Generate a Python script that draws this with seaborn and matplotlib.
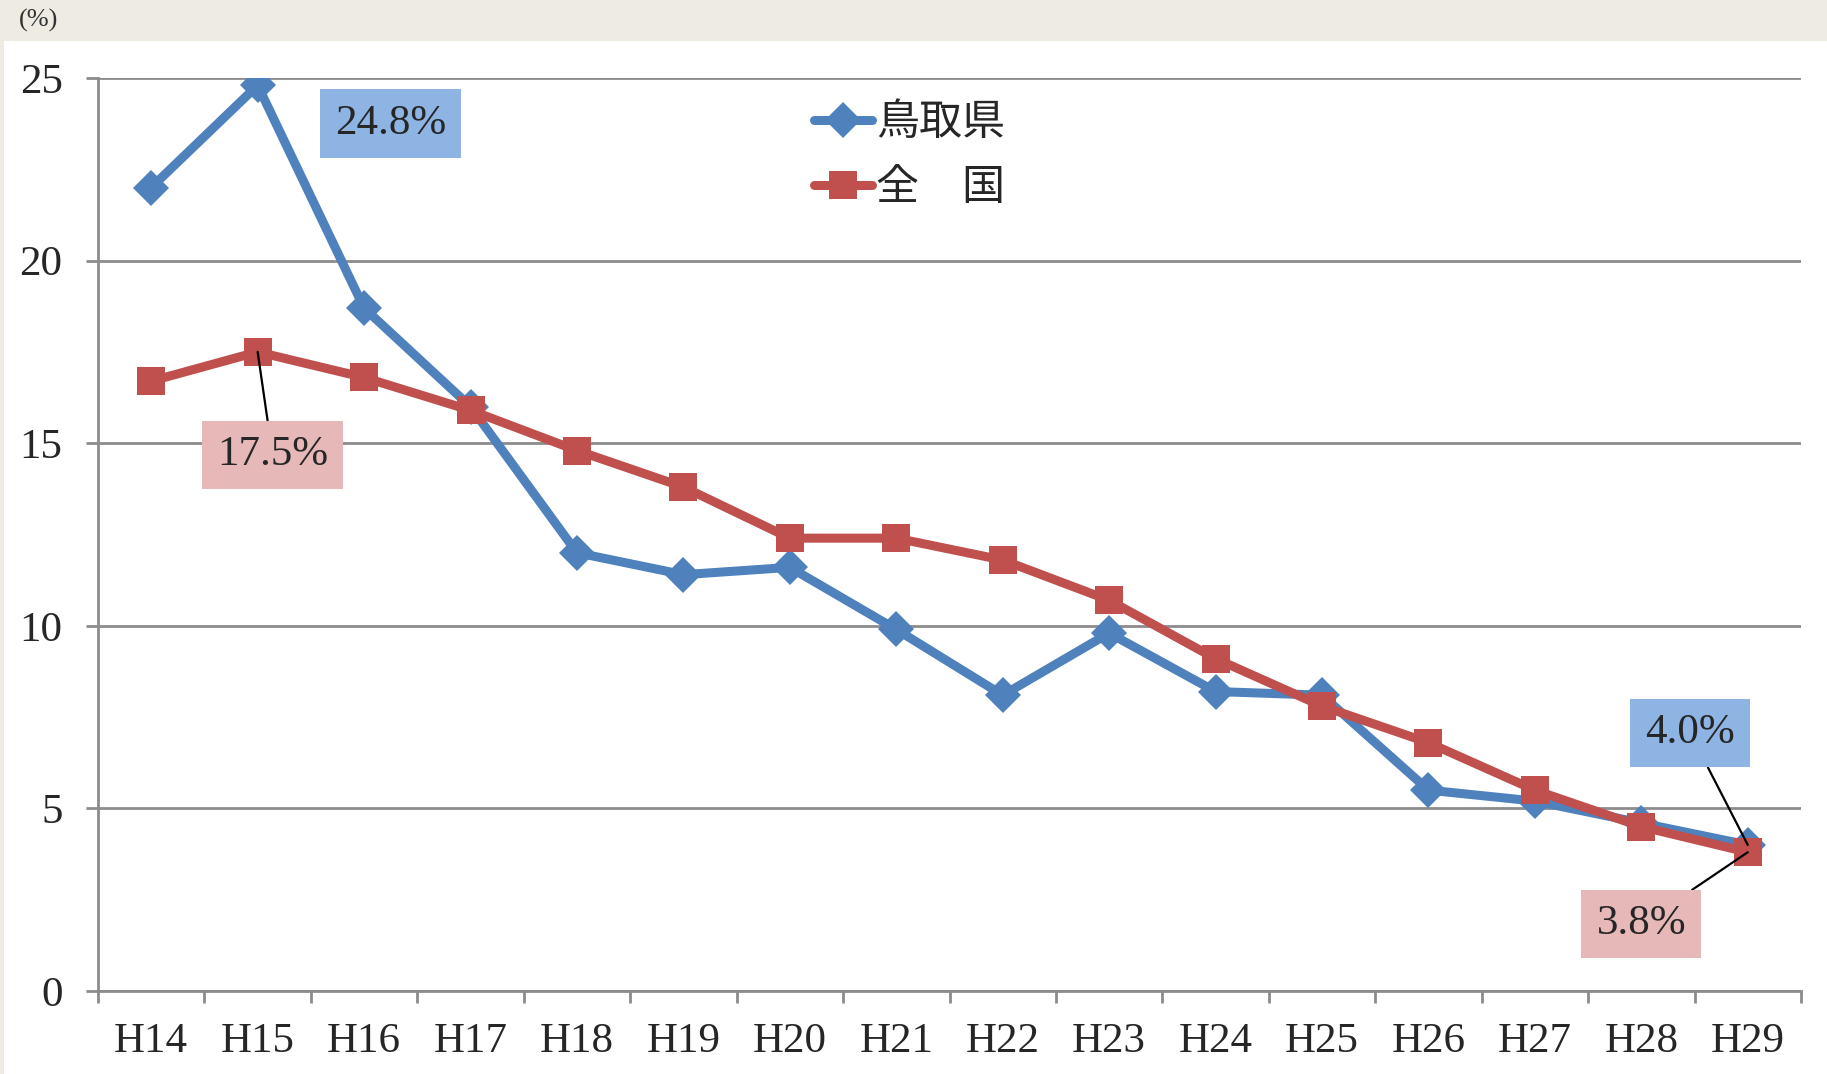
import matplotlib
matplotlib.use("Agg")
import matplotlib.pyplot as plt
from matplotlib.patches import Rectangle
import pandas as pd
import seaborn as sns

# Fiscal years (Heisei era)
years = ["H14", "H15", "H16", "H17", "H18", "H19", "H20", "H21",
         "H22", "H23", "H24", "H25", "H26", "H27", "H28", "H29"]

# Rate (%) by year
tottori = [22.0, 24.8, 18.7, 16.0, 12.0, 11.4, 11.6, 9.9,
           8.1, 9.8, 8.2, 8.1, 5.5, 5.2, 4.6, 4.0]
national = [16.7, 17.5, 16.8, 15.9, 14.8, 13.8, 12.4, 12.4,
            11.8, 10.7, 9.1, 7.8, 6.8, 5.5, 4.5, 3.8]

series_names = ["鳥取県", "全　国"]
y_ticks = [0, 5, 10, 15, 20, 25]

BLUE = "#4F81BD"
RED = "#C0504D"
BLUE_BOX = "#8EB4E3"
RED_BOX = "#E6B9B8"
GRID = "#8C8C8C"

sns.set_theme(style="white")
plt.rcParams["font.family"] = ["Liberation Serif", "Noto Sans CJK JP", "DejaVu Sans"]

df = pd.DataFrame({
    "year": years * 2,
    "value": tottori + national,
    "region": [series_names[0]] * len(years) + [series_names[1]] * len(years),
})

fig = plt.figure(figsize=(18.27, 10.74), dpi=100, facecolor="white")
# beige header band and left strip
fig.patches.append(Rectangle((0, 1 - 41 / 1074), 1, 41 / 1074, transform=fig.transFigure,
                             facecolor="#EEEBE3", edgecolor="none", zorder=0))
fig.patches.append(Rectangle((0, 0), 4 / 1827, 1, transform=fig.transFigure,
                             facecolor="#EEEBE3", edgecolor="none", zorder=0))

ax = fig.add_axes([98 / 1827, 83 / 1074, (1801 - 98) / 1827, (991 - 78) / 1074])
ax.set_facecolor("white")

sns.lineplot(
    data=df, x="year", y="value", hue="region", style="region",
    hue_order=series_names, style_order=series_names,
    palette={series_names[0]: BLUE, series_names[1]: RED},
    markers={series_names[0]: "D", series_names[1]: "s"},
    dashes=False, sort=False, legend=False, ax=ax,
    linewidth=6.5, markeredgewidth=0,
    solid_joinstyle="round", solid_capstyle="round", zorder=3,
)
lines = ax.get_lines()
lines[0].set_markersize(18)
lines[1].set_markersize(20)

ax.set_xlim(-0.5, len(years) - 0.5)
ax.set_ylim(0, 25)
ax.set_xlabel("")
ax.set_ylabel("")

# y axis: gridlines and outward ticks
ax.set_yticks(y_ticks)
ax.set_yticklabels([str(v) for v in y_ticks], fontsize=31)
ax.yaxis.grid(True, color=GRID, linewidth=2.0)
ax.xaxis.grid(False)
ax.tick_params(axis="y", which="major", direction="out", length=8.5, width=2.0,
               color=GRID, pad=17, left=True)

# x axis: labels at category centres, ticks at category boundaries
ax.set_xticks(range(len(years)))
ax.set_xticklabels(years, fontsize=31)
ax.tick_params(axis="x", which="major", length=0, pad=23)
ax.set_xticks([i - 0.5 for i in range(len(years) + 1)], minor=True)
ax.tick_params(axis="x", which="minor", direction="out", length=8.5, width=2.0,
               color=GRID, bottom=True)

for side in ["top", "right"]:
    ax.spines[side].set_visible(False)
for side in ["left", "bottom"]:
    ax.spines[side].set_color(GRID)
    ax.spines[side].set_linewidth(2.0)

# value callouts
label_font = dict(fontsize=31, ha="center", va="center", zorder=6)


def callout(idx, values, xy_text, face, leader):
    v = values[idx]
    arrow = dict(arrowstyle="-", color="black", lw=1.6, shrinkA=0, shrinkB=0) if leader else None
    ax.annotate(f"{v:.1f}%", xy=(idx, v), xytext=xy_text, textcoords="data",
                bbox=dict(boxstyle="square,pad=0.35", facecolor=face, edgecolor="none"),
                arrowprops=arrow, annotation_clip=False, **label_font)


callout(1, tottori, (2.25, 23.75), BLUE_BOX, False)
callout(1, national, (1.14, 14.68), RED_BOX, True)
callout(15, tottori, (14.46, 7.06), BLUE_BOX, True)
callout(15, national, (14.0, 1.83), RED_BOX, True)

# legend built from the plotted series
ax.legend(lines[:2], series_names, loc="upper left",
          bbox_to_anchor=(814 / 1827, 1 - 104 / 1074), bbox_transform=fig.transFigure,
          frameon=False, fontsize=31, handlelength=1.35, handletextpad=0.1,
          labelspacing=0.62, borderpad=0, borderaxespad=0)

fig.text(39 / 1827, 1 - 20 / 1074, "(%)", fontsize=19, color="#333333",
         ha="center", va="center")

fig.savefig("out.png", dpi=100, facecolor=fig.get_facecolor())
